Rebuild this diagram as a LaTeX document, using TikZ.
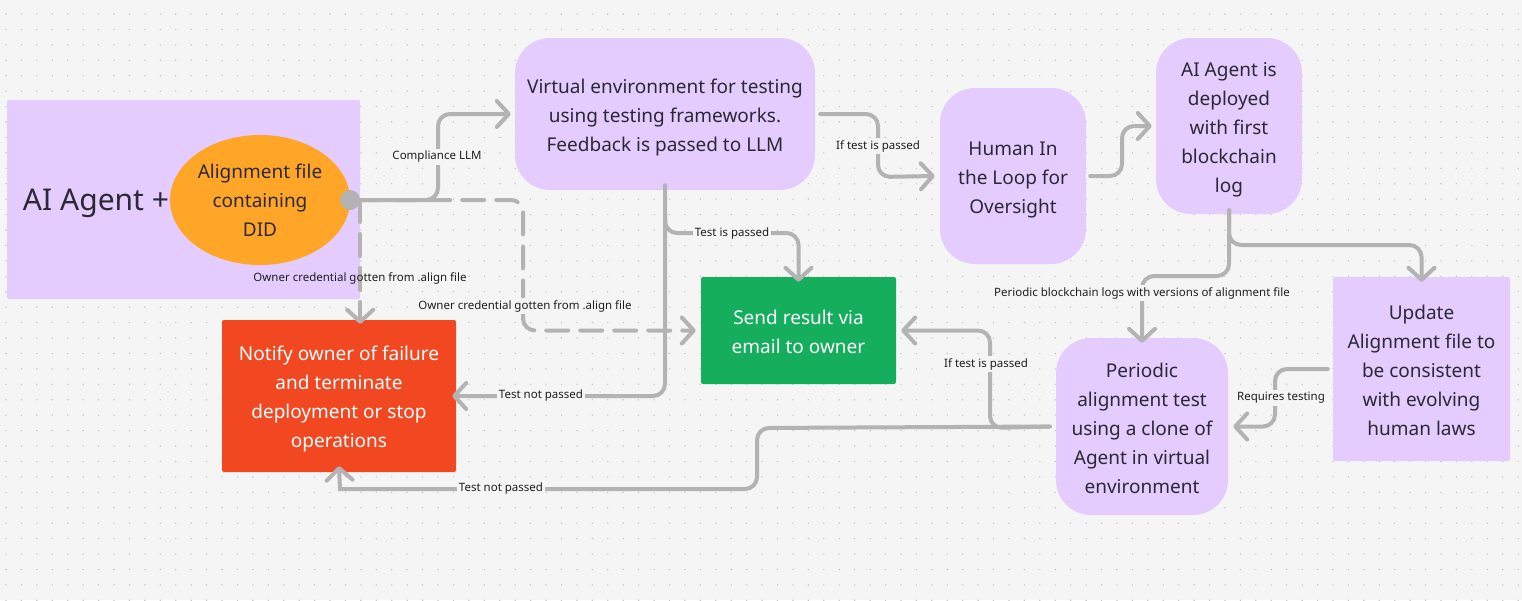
\documentclass[tikz,border=0pt]{standalone}
\usepackage{fontspec}
\setmainfont{Noto Sans}
\usetikzlibrary{arrows.meta,shapes.geometric}
\definecolor{bg}{HTML}{F5F5F5}
\definecolor{dotc}{HTML}{C6C6C6}
\definecolor{lav}{HTML}{E4CCFF}
\definecolor{orng}{HTML}{FFA629}
\definecolor{grn}{HTML}{14AE5C}
\definecolor{redo}{HTML}{F24822}
\definecolor{lgray}{HTML}{B3B3B3}
\definecolor{ntext}{HTML}{2C2834}
\definecolor{ltext}{HTML}{1E1E1E}
\begin{document}
\begin{tikzpicture}[x=1pt,y=-1pt,
  conn/.style={draw=lgray, line width=4pt, rounded corners=12pt, line cap=round,
    -{Straight Barb[length=12pt,width=26pt,round]}},
  dashline/.style={dash pattern=on 22pt off 12pt},
  lbl/.style={font=\fontsize{11.5}{13}\selectfont, text=ltext, fill=bg, inner sep=2pt},
  txt/.style={align=center, text=ntext, font=\fontsize{19}{29}\selectfont, inner sep=0pt},
  wtxt/.style={txt, text=white},
  pbox/.style={fill=lav, rounded corners=35pt, inner sep=0pt},
  sbox/.style={fill=lav, rounded corners=2pt, inner sep=0pt},
  wbox/.style={rounded corners=2pt, inner sep=0pt}]
\useasboundingbox (0,0) rectangle (1522,600);
\fill[bg] (0,0) rectangle (1522,600);
\foreach \i in {0,...,98} \foreach \j in {0,...,38}
  \fill[dotc] ({6+15.43*\i},{14+15.43*\j}) circle (0.8);

% shapes
\node[sbox, minimum width=353pt, minimum height=199pt] (agent) at (183.5,199.5) {};
\node[txt, font=\fontsize{30}{36}\selectfont] (agentlbl) at (96,203) {AI Agent +};
\node[ellipse, fill=orng, minimum width=180pt, minimum height=130pt, txt] (align) at (260,200) {Alignment file\\containing\\DID};
\node[circle, fill=lgray, minimum size=20pt, inner sep=0pt] (dot) at (350,200) {};
\node[pbox, minimum width=300pt, minimum height=152pt] (ve) at (665,114) {};
\node[pbox, minimum width=146pt, minimum height=176pt] (human) at (1013,176) {};
\node[pbox, minimum width=146pt, minimum height=176pt] (dep) at (1229,126) {};
\node[wbox, fill=grn, minimum width=195pt, minimum height=107pt] (send) at (798.5,330.5) {};
\node[wbox, fill=redo, minimum width=234pt, minimum height=152pt] (notify) at (339,396) {};
\node[pbox, minimum width=172pt, minimum height=177pt] (per) at (1142,426.5) {};
\node[sbox, minimum width=177pt, minimum height=184pt] (upd) at (1421.5,369) {};

% texts
\node[txt] (vet) at ([yshift=-4pt]ve.center) {Virtual environment for testing\\using testing frameworks.\\Feedback is passed to LLM};
\node[txt] (humant) at ([yshift=-4pt]human.center) {Human In\\the Loop for\\Oversight};
\node[txt] (dept) at ([yshift=-4pt]dep.center) {AI Agent is\\deployed\\with first\\blockchain\\log};
\node[wtxt] (sendt) at ([yshift=-1pt]send.center) {Send result via\\email to owner};
\node[wtxt] (notifyt) at ([yshift=-3pt]notify.center) {Notify owner of failure\\and terminate\\deployment or stop\\operations};
\node[txt] (pert) at ([yshift=-2pt]per.center) {Periodic\\alignment test\\using a clone of\\Agent in virtual\\environment};
\node[txt] (updt) at ([yshift=-1pt]upd.center) {Update\\Alignment file to\\be consistent\\with evolving\\human laws};

% connectors
\draw[conn] (dot.east) -- (438,200) -- (438,114) -- ([xshift=-4pt]ve.west);
\node[lbl] (l1) at (437,157) {Compliance LLM};

\draw[conn,dashline] (dot.east) -- (523,200) -- (523,330.5) -- ([xshift=-5pt]send.west);
\node[lbl] (l2) at (525,306) {Owner credential gotten from .align file};

\draw[conn,dashline] (dot.east) -- ([yshift=-4pt]dot.east |- notify.north);
\node[lbl, fill=none] (l3) at (360,278) {Owner credential gotten from .align file};

\draw[conn] ([yshift=5pt]ve.south) -- (665,396) -- ([xshift=-4pt]notify.east);
\node[lbl] (l4) at (541,396) {Test not passed};

\draw[conn] (665,215) -- (665,233) -- (798.5,233) -- ([yshift=-5pt]send.north);
\node[lbl] (l5) at (732,234) {Test is passed};

\draw[conn] ([xshift=5pt]ve.east) -- (878,114) -- (878,177) -- ([xshift=-5pt]human.west);
\node[lbl] (l6) at (878,146) {If test is passed};

\draw[conn] ([xshift=4pt]human.east) -- (1122,176) -- (1122,126) -- ([xshift=-4pt]dep.west);

\draw[conn] ([yshift=4pt]dep.south) -- (1229,245) -| ([yshift=-5pt]upd.north);
\draw[conn] ([yshift=4pt]dep.south) -- (1229,276) -- (1142,276) -- ([yshift=-5pt]per.north);
\node[lbl] (l7) at (1142,293) {Periodic blockchain logs with versions of alignment file};

\draw[conn] ([xshift=-5pt]upd.west) -- (1275,369) -- (1275,426.5) -- ([xshift=5pt]per.east);
\node[lbl] (l8) at (1281,398) {Requires testing};

\draw[conn] ([xshift=-6pt]per.west) -- (990,428) -- (990,330.5) -- ([xshift=5pt]send.east);
\node[lbl] (l9) at (986,364) {If test is passed};

\draw[conn] ([xshift=-6pt]per.west) -- (757,428) -- (757,489) [sharp corners] -- (340,489) -- ([yshift=6pt]notify.south);
\node[lbl] (l10) at (501,489) {Test not passed};
\end{tikzpicture}
\end{document}
